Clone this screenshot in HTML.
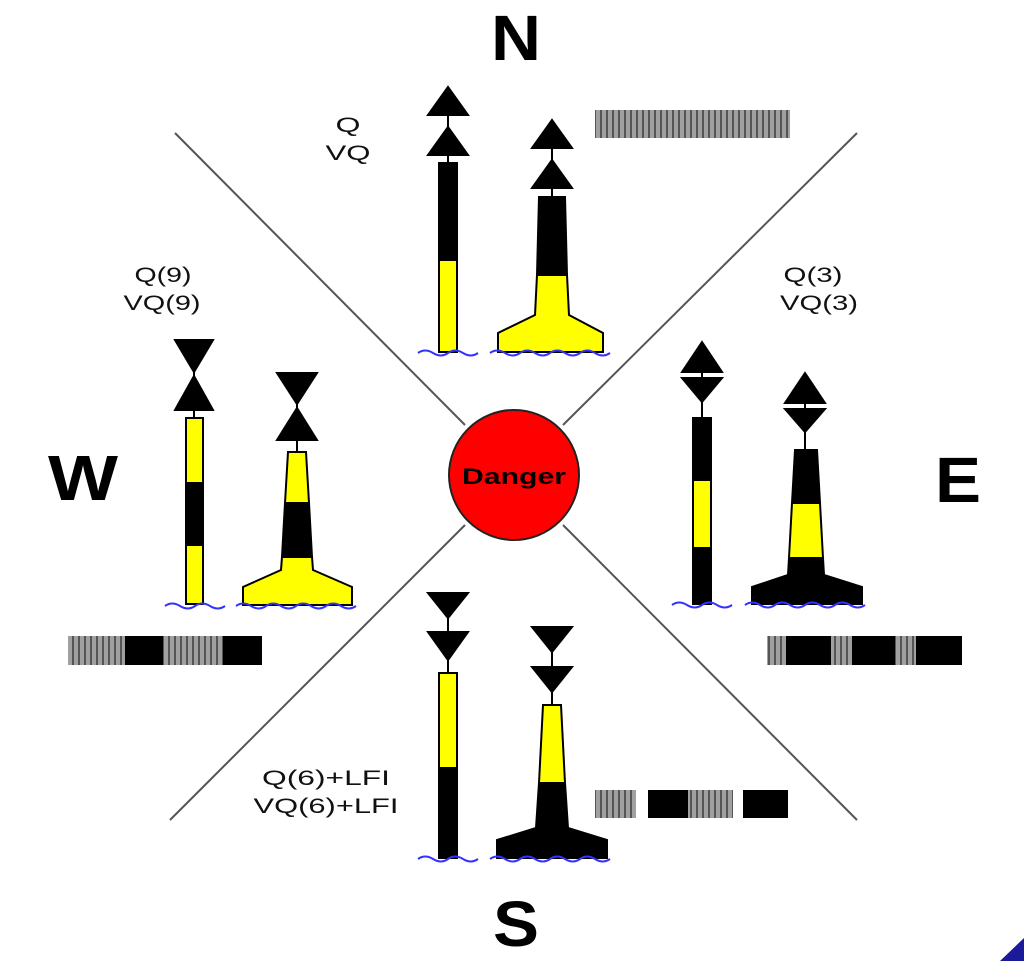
<!DOCTYPE html>
<html><head><meta charset="utf-8"><style>
html,body{margin:0;padding:0;background:#fff;width:1024px;height:961px;overflow:hidden}
svg{display:block}
text{font-family:"Liberation Sans",sans-serif}
</style></head><body>
<svg width="1024" height="961" viewBox="0 0 1024 961" xmlns="http://www.w3.org/2000/svg">
<defs>
<pattern id="st" width="6" height="10" patternUnits="userSpaceOnUse">
<rect width="6" height="10" fill="#a0a0a0"/><rect x="0" width="2" height="10" fill="#555"/>
</pattern>
</defs>
<g stroke="#555" stroke-width="2">
<line x1="175" y1="133" x2="465" y2="425"/>
<line x1="857" y1="133" x2="563" y2="425"/>
<line x1="170" y1="820" x2="465" y2="525"/>
<line x1="857" y1="820" x2="563" y2="525"/>
</g>
<circle cx="514" cy="475" r="65" fill="#f00" stroke="#222" stroke-width="2"/>
<text x="514" y="484" font-size="22" font-weight="bold" text-anchor="middle" fill="#000" textLength="104" lengthAdjust="spacingAndGlyphs">Danger</text>

<g font-weight="bold" font-size="64" text-anchor="middle" fill="#000">
<text x="516" y="60" textLength="50" lengthAdjust="spacingAndGlyphs">N</text>
<text x="83" y="500" textLength="70" lengthAdjust="spacingAndGlyphs">W</text>
<text x="958" y="502" textLength="46" lengthAdjust="spacingAndGlyphs">E</text>
<text x="516" y="946" textLength="46" lengthAdjust="spacingAndGlyphs">S</text>
</g>
<g font-size="21" text-anchor="middle" fill="#111" lengthAdjust="spacingAndGlyphs">
<text x="348" y="132" textLength="25" lengthAdjust="spacingAndGlyphs">Q</text>
<text x="348" y="160" textLength="45" lengthAdjust="spacingAndGlyphs">VQ</text>
<text x="163" y="282" textLength="57" lengthAdjust="spacingAndGlyphs">Q(9)</text>
<text x="162" y="310" textLength="77" lengthAdjust="spacingAndGlyphs">VQ(9)</text>
<text x="813" y="282" textLength="59" lengthAdjust="spacingAndGlyphs">Q(3)</text>
<text x="819" y="310" textLength="78" lengthAdjust="spacingAndGlyphs">VQ(3)</text>
<text x="326" y="785" textLength="128" lengthAdjust="spacingAndGlyphs">Q(6)+LFI</text>
<text x="326" y="813" textLength="145" lengthAdjust="spacingAndGlyphs">VQ(6)+LFI</text>
</g>

<rect x="595" y="110" width="195" height="28" fill="url(#st)"/>
<rect x="68" y="636" width="194" height="29" fill="url(#st)"/>
<rect x="125" y="636" width="38" height="29" fill="#000"/>
<rect x="223" y="636" width="39" height="29" fill="#000"/>
<rect x="767" y="636" width="195" height="29" fill="url(#st)"/>
<rect x="786" y="636" width="45" height="29" fill="#000"/>
<rect x="852" y="636" width="43" height="29" fill="#000"/>
<rect x="916" y="636" width="46" height="29" fill="#000"/>
<rect x="595" y="790" width="193" height="28" fill="url(#st)"/>
<rect x="636" y="790" width="12" height="28" fill="#fff"/>
<rect x="648" y="790" width="40" height="28" fill="#000"/>
<rect x="733" y="790" width="10" height="28" fill="#fff"/>
<rect x="743" y="790" width="45" height="28" fill="#000"/>

<g stroke="#000" stroke-width="2">
<line x1="448" y1="100" x2="448" y2="165"/>
<polygon points="448,87 428,115 468,115" fill="#000"/>
<polygon points="448,127 428,155 468,155" fill="#000"/>
<rect x="439" y="163" width="18" height="97" fill="#000"/>
<rect x="439" y="260" width="18" height="92" fill="#ff0"/>
<line x1="552" y1="130" x2="552" y2="199"/>
<polygon points="552,120 532,148 572,148" fill="#000"/>
<polygon points="552,160 532,188 572,188" fill="#000"/>
<polygon points="539,197 565,197 567,275 537,275" fill="#000"/>
<polygon points="537,275 567,275 569,315 603,333 603,352 498,352 498,333 535,315" fill="#ff0"/>

<line x1="702" y1="350" x2="702" y2="420"/>
<polygon points="702,342 682,372 722,372" fill="#000"/>
<polygon points="682,378 722,378 702,402" fill="#000"/>
<rect x="693" y="418" width="18" height="62" fill="#000"/>
<rect x="693" y="480" width="18" height="68" fill="#ff0"/>
<rect x="693" y="548" width="18" height="56" fill="#000"/>
<line x1="805" y1="380" x2="805" y2="452"/>
<polygon points="805,373 785,403 825,403" fill="#000"/>
<polygon points="785,409 825,409 805,432" fill="#000"/>
<polygon points="795,450 817,450 820,503 792,503" fill="#000"/>
<polygon points="792,503 820,503 823,558 789,558" fill="#ff0"/>
<polygon points="789,558 823,558 824,575 862,587 862,604 752,604 752,587 788,575" fill="#000"/>

<line x1="194" y1="345" x2="194" y2="420"/>
<polygon points="175,340 213,340 194,372" fill="#000"/>
<polygon points="194,376 175,410 213,410" fill="#000"/>
<rect x="186" y="418" width="17" height="65" fill="#ff0"/>
<rect x="186" y="483" width="17" height="62" fill="#000"/>
<rect x="186" y="545" width="17" height="59" fill="#ff0"/>
<line x1="297" y1="375" x2="297" y2="454"/>
<polygon points="277,373 317,373 297,404" fill="#000"/>
<polygon points="297,408 277,440 317,440" fill="#000"/>
<polygon points="288,452 306,452 309,503 285,503" fill="#ff0"/>
<polygon points="285,503 309,503 312,557 282,557" fill="#000"/>
<polygon points="282,557 312,557 313,570 352,587 352,605 243,605 243,587 281,570" fill="#ff0"/>

<line x1="448" y1="595" x2="448" y2="675"/>
<polygon points="428,593 468,593 448,618" fill="#000"/>
<polygon points="428,632 468,632 448,660" fill="#000"/>
<rect x="439" y="673" width="18" height="95" fill="#ff0"/>
<rect x="439" y="768" width="18" height="90" fill="#000"/>
<line x1="552" y1="630" x2="552" y2="707"/>
<polygon points="532,627 572,627 552,652" fill="#000"/>
<polygon points="532,667 572,667 552,692" fill="#000"/>
<polygon points="543,705 561,705 565,783 539,783" fill="#ff0"/>
<polygon points="539,783 565,783 568,828 607,840 607,858 497,858 497,840 536,828" fill="#000"/>
</g>

<g fill="none" stroke="#33f" stroke-width="2">
<path d="M418,353 q7,-5 15,0 t15,0 t15,0 t15,0"/>
<path d="M490,353 q7,-5 15,0 t15,0 t15,0 t15,0 t15,0 t15,0 t15,0 t15,0"/>
<path d="M672,605 q7,-5 15,0 t15,0 t15,0 t15,0"/>
<path d="M745,605 q7,-5 15,0 t15,0 t15,0 t15,0 t15,0 t15,0 t15,0 t15,0"/>
<path d="M165,606 q7,-5 15,0 t15,0 t15,0 t15,0"/>
<path d="M236,606 q7,-5 15,0 t15,0 t15,0 t15,0 t15,0 t15,0 t15,0 t15,0"/>
<path d="M418,859 q7,-5 15,0 t15,0 t15,0 t15,0"/>
<path d="M490,859 q7,-5 15,0 t15,0 t15,0 t15,0 t15,0 t15,0 t15,0 t15,0"/>
</g>
<polygon points="1000,961 1024,938 1024,961" fill="#1a1a9a"/>
</svg>
</body></html>
